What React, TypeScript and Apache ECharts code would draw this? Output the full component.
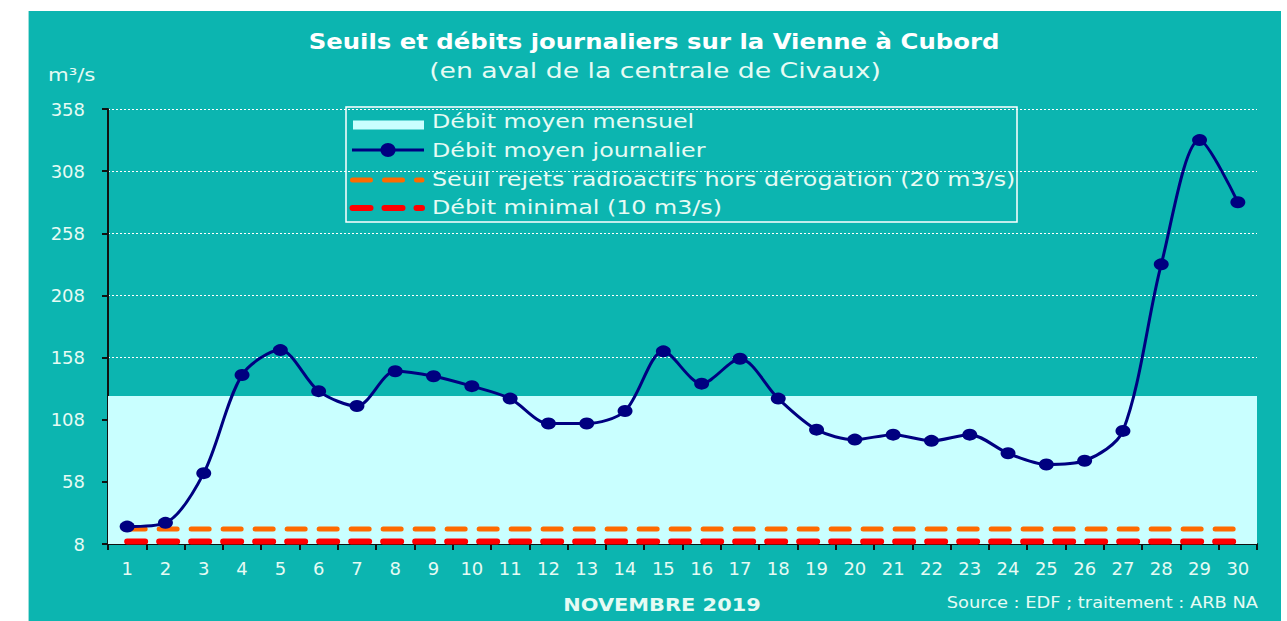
import React, { useEffect, useRef } from "react";
import * as echarts from "echarts";

const days = ["1","2","3","4","5","6","7","8","9","10","11","12","13","14","15","16","17","18","19","20","21","22","23","24","25","26","27","28","29","30"];
const dailyFlow = [22, 25, 65, 144, 164, 131, 119, 147, 143, 135, 125, 105, 105, 115, 163, 137, 157, 125, 100, 92, 96, 91, 96, 81, 72, 75, 99, 233, 333, 283];
const monthlyMean = 127;
const releaseThreshold = 20;
const minimalFlow = 10;
const yTicks = { min: 8, max: 358, interval: 50 };

const seriesNames = [
  "Débit moyen mensuel",
  "Débit moyen journalier",
  "Seuil rejets radioactifs hors dérogation (20 m3/s)",
  "Débit minimal (10 m3/s)",
];

const FONT = "DejaVu Sans";
const LIGHT = "#e6fbf4";
const CYAN = "#c9ffff";
const NAVY = "#000080";
const ORANGE = "#ff6a00";
const RED = "#ff0000";

function legendGraphics() {
  const rows = [121, 150, 179, 207];
  const els: any[] = [
    { type: "rect", shape: { x: 346, y: 107, width: 671, height: 115 }, style: { fill: "none", stroke: "#ffffff", lineWidth: 1.5 }, z: 100 },
    { type: "rect", shape: { x: 353, y: 120.5, width: 71, height: 9 }, style: { fill: CYAN }, z: 100 },
    { type: "line", shape: { x1: 352, y1: 150, x2: 424, y2: 150 }, style: { stroke: NAVY, lineWidth: 3 }, z: 100 },
    { type: "ellipse", shape: { cx: 388, cy: 150, rx: 7.5, ry: 7 }, style: { fill: NAVY }, z: 101 },
    { type: "line", shape: { x1: 352.5, y1: 180, x2: 422, y2: 180 }, style: { stroke: ORANGE, lineWidth: 5, lineDash: [18, 14], lineCap: "round" }, z: 100 },
    { type: "line", shape: { x1: 352.5, y1: 208, x2: 422, y2: 208 }, style: { stroke: RED, lineWidth: 6, lineDash: [18, 14], lineCap: "round" }, z: 100 },
  ];
  seriesNames.forEach((name, i) => {
    els.push({
      type: "text",
      x: 432,
      y: rows[i],
      scaleX: 1.19,
      z: 100,
      style: { text: name, fill: LIGHT, font: `20px "${FONT}"`, textAlign: "left", textVerticalAlign: "middle" },
    });
  });
  return els;
}

export default function App() {
  const ref = useRef<HTMLDivElement>(null);
  useEffect(() => {
    if (!ref.current) return;
    const chart = echarts.init(ref.current, undefined, { renderer: "svg" });
    chart.setOption({
      animation: false,
      grid: { left: 108, right: 30, top: 109, bottom: 77 },
      graphic: [
        ...legendGraphics(),
        { type: "text", x: 654, y: 42, scaleX: 1.16, style: { text: "Seuils et débits journaliers sur la Vienne à Cubord", fill: "#ffffff", font: `bold 21px "${FONT}"`, textAlign: "center", textVerticalAlign: "middle" } },
        { type: "text", x: 655, y: 71, scaleX: 1.27, style: { text: "(en aval de la centrale de Civaux)", fill: LIGHT, font: `21px "${FONT}"`, textAlign: "center", textVerticalAlign: "middle" } },
        { type: "text", x: 48, y: 75, scaleX: 1.25, style: { text: "m³/s", fill: LIGHT, font: `17px "${FONT}"`, textAlign: "left", textVerticalAlign: "middle" } },
        { type: "text", x: 662, y: 605, scaleX: 1.16, style: { text: "NOVEMBRE 2019", fill: LIGHT, font: `bold 18px "${FONT}"`, textAlign: "center", textVerticalAlign: "middle" } },
        { type: "text", x: 1258, y: 603, scaleX: 1.19, style: { text: "Source : EDF ; traitement : ARB NA", fill: LIGHT, font: `15px "${FONT}"`, textAlign: "right", textVerticalAlign: "middle" } },
      ],
      xAxis: {
        type: "category",
        data: days,
        boundaryGap: true,
        axisLine: { lineStyle: { color: "#111111", width: 2 } },
        axisTick: { show: true, length: 6, lineStyle: { color: "#111111", width: 2 } },
        axisLabel: { color: LIGHT, fontSize: 18, fontFamily: FONT, margin: 15 },
        splitLine: { show: false },
      },
      yAxis: {
        type: "value",
        min: yTicks.min,
        max: yTicks.max,
        interval: yTicks.interval,
        axisLine: { show: true, lineStyle: { color: "#111111", width: 2 } },
        axisTick: { show: true, length: 6, lineStyle: { color: "#111111", width: 2 } },
        axisLabel: { color: LIGHT, fontSize: 18, fontFamily: FONT, margin: 23 },
        splitLine: { show: true, lineStyle: { color: "#ffffff", type: [2, 2], width: 1 } },
      },
      series: [
        {
          name: seriesNames[0],
          type: "line",
          data: [],
          symbol: "none",
          z: 1,
          markArea: {
            silent: true,
            itemStyle: { color: CYAN, borderWidth: 0 },
            data: [[{ yAxis: yTicks.min }, { yAxis: monthlyMean }]],
          },
        },
        {
          name: seriesNames[2],
          type: "line",
          data: days.map(() => releaseThreshold),
          symbol: "none",
          lineStyle: { color: ORANGE, width: 5, type: [18, 14], cap: "round" },
          itemStyle: { color: ORANGE },
          z: 3,
        },
        {
          name: seriesNames[3],
          type: "line",
          data: days.map(() => minimalFlow),
          symbol: "none",
          lineStyle: { color: RED, width: 6, type: [18, 14], cap: "round" },
          itemStyle: { color: RED },
          z: 3,
        },
        {
          name: seriesNames[1],
          type: "line",
          data: dailyFlow,
          smooth: 0.3,
          symbol: "circle",
          symbolSize: [15, 12],
          lineStyle: { color: NAVY, width: 3 },
          itemStyle: { color: NAVY },
          z: 5,
        },
      ],
    });
    return () => chart.dispose();
  }, []);
  return (
    <div style={{ position: "absolute", left: 0, top: 0, width: 1287, height: 621, background: "#ffffff", overflow: "hidden" }}>
      <div style={{ position: "absolute", left: 28, top: 11, width: 1252, height: 610, background: "#0cb5b0", borderLeft: "1px solid #9ddfdb" }} />
      <div ref={ref} style={{ position: "absolute", left: 0, top: 0, width: 1287, height: 621 }} />
    </div>
  );
}
